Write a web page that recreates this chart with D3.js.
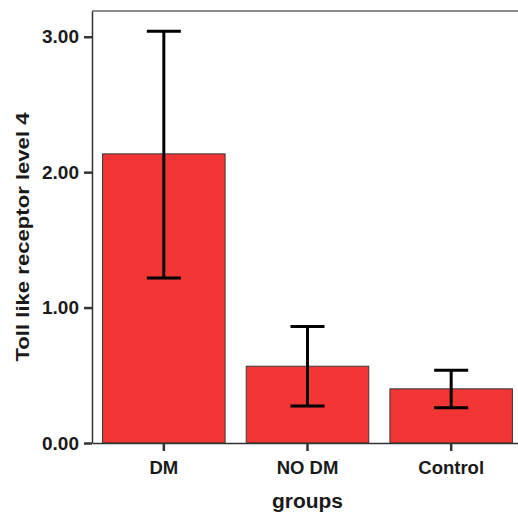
<!DOCTYPE html>
<html>
<head>
<meta charset="utf-8">
<script src="https://cdn.jsdelivr.net/npm/d3@7"></script>
<style>
  body { margin: 0; background: #fff; }
  text { font-family: "Liberation Sans", Arial, sans-serif; font-weight: bold; fill: #1a1a1a; }
  .axis path, .axis line { stroke: #333; }
</style>
</head>
<body>
<div id="chart"></div>
<script>
// data
const groups = ["DM", "NO DM", "Control"];
const means = [2.135, 0.567, 0.40];
const ciLow = [1.218, 0.274, 0.261];
const ciHigh = [3.04, 0.86, 0.538];
const yTicks = [0, 1, 2, 3];

const width = 518, height = 512;
const plot = { left: 92, right: 523, top: 11, bottom: 443 };

const svg = d3.select("#chart").append("svg")
  .attr("width", width)
  .attr("height", height);

const x = d3.scaleBand()
  .domain(groups)
  .range([plot.left, plot.right])
  .paddingInner(0.147)
  .paddingOuter(0.0735);

const y = d3.scaleLinear()
  .domain([0, 3.19])
  .range([plot.bottom, plot.top]);

// frame top line
svg.append("line")
  .attr("x1", plot.left).attr("x2", width)
  .attr("y1", plot.top).attr("y2", plot.top)
  .attr("stroke", "#666").attr("stroke-width", 1.5);

// bars
const rows = groups.map((g, i) => ({ g, m: means[i], lo: ciLow[i], hi: ciHigh[i] }));

svg.selectAll(".bar")
  .data(rows)
  .enter()
  .append("rect")
  .attr("class", "bar")
  .attr("x", d => x(d.g))
  .attr("y", d => y(d.m))
  .attr("width", x.bandwidth())
  .attr("height", d => y(0) - y(d.m))
  .attr("fill", "#f23535")
  .attr("stroke", "#3a3a3a")
  .attr("stroke-width", 1);

// error bars
const err = svg.selectAll(".err")
  .data(rows)
  .enter()
  .append("g")
  .attr("class", "err")
  .attr("transform", d => `translate(${x(d.g) + x.bandwidth() / 2},0)`)
  .attr("stroke", "#000")
  .attr("stroke-width", 3);

err.append("line")
  .attr("x1", 0).attr("x2", 0)
  .attr("y1", d => y(d.lo)).attr("y2", d => y(d.hi));
err.append("line")
  .attr("x1", -17).attr("x2", 17)
  .attr("y1", d => y(d.hi)).attr("y2", d => y(d.hi));
err.append("line")
  .attr("x1", -17).attr("x2", 17)
  .attr("y1", d => y(d.lo)).attr("y2", d => y(d.lo));

// axes
svg.append("g")
  .attr("class", "axis")
  .attr("transform", `translate(${plot.left},0)`)
  .call(d3.axisLeft(y).tickValues(yTicks).tickFormat(d3.format(".2f"))
    .tickSize(8).tickSizeOuter(0).tickPadding(5))
  .call(g => g.selectAll("text").attr("font-size", 19).attr("font-family", null))
  .call(g => g.selectAll(".tick line").attr("stroke-width", 2.5).attr("stroke", "#111"))
  .call(g => g.select(".domain").attr("stroke-width", 1.5).attr("stroke", "#555"));

svg.append("g")
  .attr("class", "axis")
  .attr("transform", `translate(0,${plot.bottom})`)
  .call(d3.axisBottom(x).tickSize(8).tickSizeOuter(0).tickPadding(10))
  .call(g => g.selectAll("text").attr("font-size", 18.5).attr("font-family", null))
  .call(g => g.selectAll(".tick line").attr("stroke-width", 2.5).attr("stroke", "#111"))
  .call(g => g.select(".domain").attr("stroke-width", 1.5).attr("stroke", "#555"));

// axis titles
svg.append("text")
  .attr("x", x("NO DM") + x.bandwidth() / 2)
  .attr("y", 508)
  .attr("text-anchor", "middle")
  .attr("font-size", 20)
  .attr("textLength", 71)
  .attr("lengthAdjust", "spacingAndGlyphs")
  .text("groups");

svg.append("text")
  .attr("transform", "rotate(-90)")
  .attr("x", -237)
  .attr("y", 29)
  .attr("text-anchor", "middle")
  .attr("font-size", 18)
  .attr("textLength", 249)
  .attr("lengthAdjust", "spacingAndGlyphs")
  .text("Toll like receptor level 4");
</script>
</body>
</html>
